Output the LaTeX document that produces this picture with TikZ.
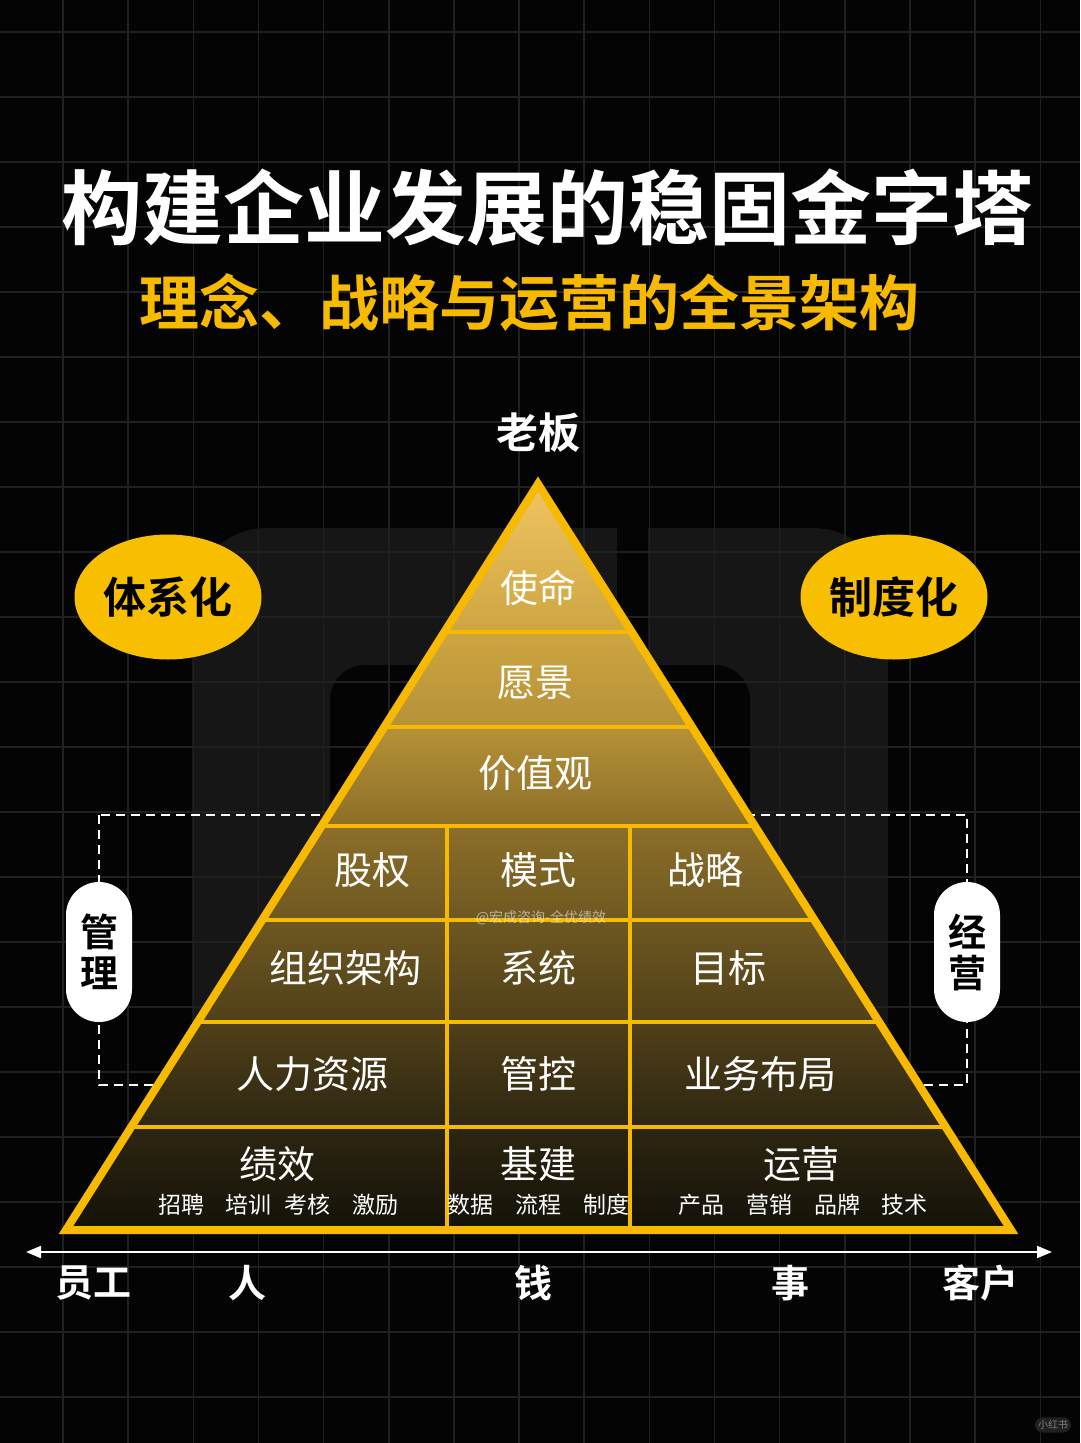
\documentclass[tikz,border=0pt]{standalone}
\usepackage{fontspec}
\setmainfont{Noto Sans CJK SC}[BoldFont={Noto Sans CJK SC Bold}]
\usetikzlibrary{shapes.geometric,arrows.meta}
\definecolor{bgc}{RGB}{4,4,4}
\definecolor{gridc}{RGB}{32,32,32}
\definecolor{wmc}{RGB}{22,22,22}
\definecolor{gold}{RGB}{247,186,0}
\definecolor{ovalc}{RGB}{248,190,0}
\definecolor{g0}{RGB}{18,16,8}
\definecolor{g1}{RGB}{45,38,17}
\definecolor{g2}{RGB}{80,64,25}
\definecolor{g3}{RGB}{110,88,33}
\definecolor{g4}{RGB}{140,110,40}
\definecolor{g5}{RGB}{182,145,55}
\definecolor{g6}{RGB}{205,165,65}
\definecolor{g7}{RGB}{242,198,98}
\pgfdeclareverticalshading{pyr}{100bp}{color(0bp)=(g0); color(25bp)=(g0); color(32.13bp)=(g1); color(39.07bp)=(g2); color(45.81bp)=(g3); color(52.01bp)=(g4); color(58.55bp)=(g5); color(64.83bp)=(g6); color(75bp)=(g7); color(100bp)=(g7)}
\begin{document}
\begin{tikzpicture}[x=1pt,y=-1pt,
  titlefont/.style={text=white,font=\fontsize{81}{90}\selectfont\bfseries,inner sep=0},
  subfont/.style={text=gold,font=\fontsize{60}{66}\selectfont\bfseries,inner sep=0},
  bosslbl/.style={text=white,font=\fontsize{42}{46}\selectfont\bfseries,inner sep=0},
  cell/.style={text=white,font=\fontsize{38}{42}\selectfont,inner sep=0},
  subitem/.style={text=white,font=\fontsize{23}{26}\selectfont,inner sep=0},
  oval/.style={ellipse,fill=ovalc,minimum width=187,minimum height=125,inner sep=0,text=black,font=\fontsize{43}{46}\selectfont\bfseries},
  pill/.style={rectangle,fill=white,rounded corners=33,minimum width=66,minimum height=140,inner sep=0,align=center,text=black,font=\fontsize{38}{41}\selectfont\bfseries},
  axlbl/.style={text=white,font=\fontsize{38}{42}\selectfont\bfseries,inner sep=0},
  gridline/.style={gridc,line width=1.5},
  divline/.style={gold,line width=4.5}
]
% background
\fill[bgc] (0,0) rectangle (1080,1443);
\useasboundingbox (0,0) rectangle (1080,1443);
% faint logo behind
\fill[wmc, rounded corners=75] (192,528) rectangle (888,1226);
\fill[bgc, rounded corners=35] (330,665) rectangle (750,1300);
\fill[bgc] (617,520) rectangle (648,666);
% grid
\foreach \i in {1,...,16} \draw[gridline] ({-2.15+65.15*\i},0) -- ++(0,1443);
\foreach \j in {0,...,21} \draw[gridline] (0,{32+65*\j}) -- ++(1080,0);
% titles
\node[titlefont] (title) at (547,208) {构建企业发展的稳固金字塔};
\node[subfont] (subtitle) at (529,303) {理念、战略与运营的全景架构};
\node[bosslbl] (boss) at (538,433) {老板};
% dashed frame
\draw[white, line width=1.8, dash pattern=on 9pt off 6pt] (99,815) rectangle (967,1085);
% pyramid
\coordinate (apex) at (538,484);
\coordinate (bl) at (66,1230);
\coordinate (br) at (1011,1230);
\begin{scope}
\clip (apex) -- (bl) -- (br) -- cycle;
\shade[shading=pyr] (0,478) rectangle (1080,1235);
\foreach \yy in {632,727,826,920,1022,1127} \draw[divline] (0,\yy) -- (1080,\yy);
\draw[divline] (447,826) -- (447,1240) (630,826) -- (630,1240);
\end{scope}
\draw[gold, line width=8, line join=miter] (apex) -- (bl) -- (br) -- cycle;
% pyramid labels
\node[cell] (mission) at (538,588) {使命};
\node[cell] (vision) at (535,683) {愿景};
\node[cell] (values) at (535,773) {价值观};
\node[cell] (equity) at (372,870) {股权};
\node[cell] (model) at (538,870) {模式};
\node[cell] (strategy) at (705,870) {战略};
\node[cell] (org) at (345,968) {组织架构};
\node[cell] (system) at (538,968) {系统};
\node[cell] (goal) at (728,968) {目标};
\node[cell] (hr) at (312,1074) {人力资源};
\node[cell] (control) at (538,1074) {管控};
\node[cell] (biz) at (760,1074) {业务布局};
\node[cell] (perf) at (277,1164) {绩效};
\node[cell] (infra) at (538,1164) {基建};
\node[cell] (ops) at (801,1164) {运营};
\node[subitem] (s1) at (181,1205) {招聘};
\node[subitem] (s2) at (248,1205) {培训};
\node[subitem] (s3) at (307,1205) {考核};
\node[subitem] (s4) at (375,1205) {激励};
\node[subitem] (s5) at (470,1205) {数据};
\node[subitem] (s6) at (538,1205) {流程};
\node[subitem] (s7) at (606,1205) {制度};
\node[subitem] (s8) at (701,1205) {产品};
\node[subitem] (s9) at (769,1205) {营销};
\node[subitem] (s10) at (837,1205) {品牌};
\node[subitem] (s11) at (904,1205) {技术};
\node[text=white, opacity=0.55, inner sep=0, font=\fontsize{14}{16}\selectfont] (wmk) at (541,918) {@宏成咨询-全优绩效};
% side ovals
\node[oval] (sys) at (168,597) {体系化};
\node[oval] (inst) at (894,597) {制度化};
% pills
\node[pill] (mgmt) at (99,952) {管\\理};
\node[pill] (oper) at (967,952) {经\\营};
% axis
\coordinate (axl) at (26,1252);
\coordinate (axr) at (1052,1252);
\draw[white, line width=2, {Triangle[width=12,length=15]}-{Triangle[width=12,length=15]}] (axl) -- (axr);
\node[axlbl] (staff) at (93,1283) {员工};
\node[axlbl] (people) at (247,1283) {人};
\node[axlbl] (money) at (533,1283) {钱};
\node[axlbl] (affair) at (790,1283) {事};
\node[axlbl] (client) at (980,1283) {客户};
% platform mark
\node[fill=gridc, rounded corners=8, text=gray, inner sep=3, font=\fontsize{10}{12}\selectfont] (xhs) at (1053,1425) {小红书};
\end{tikzpicture}
\end{document}
